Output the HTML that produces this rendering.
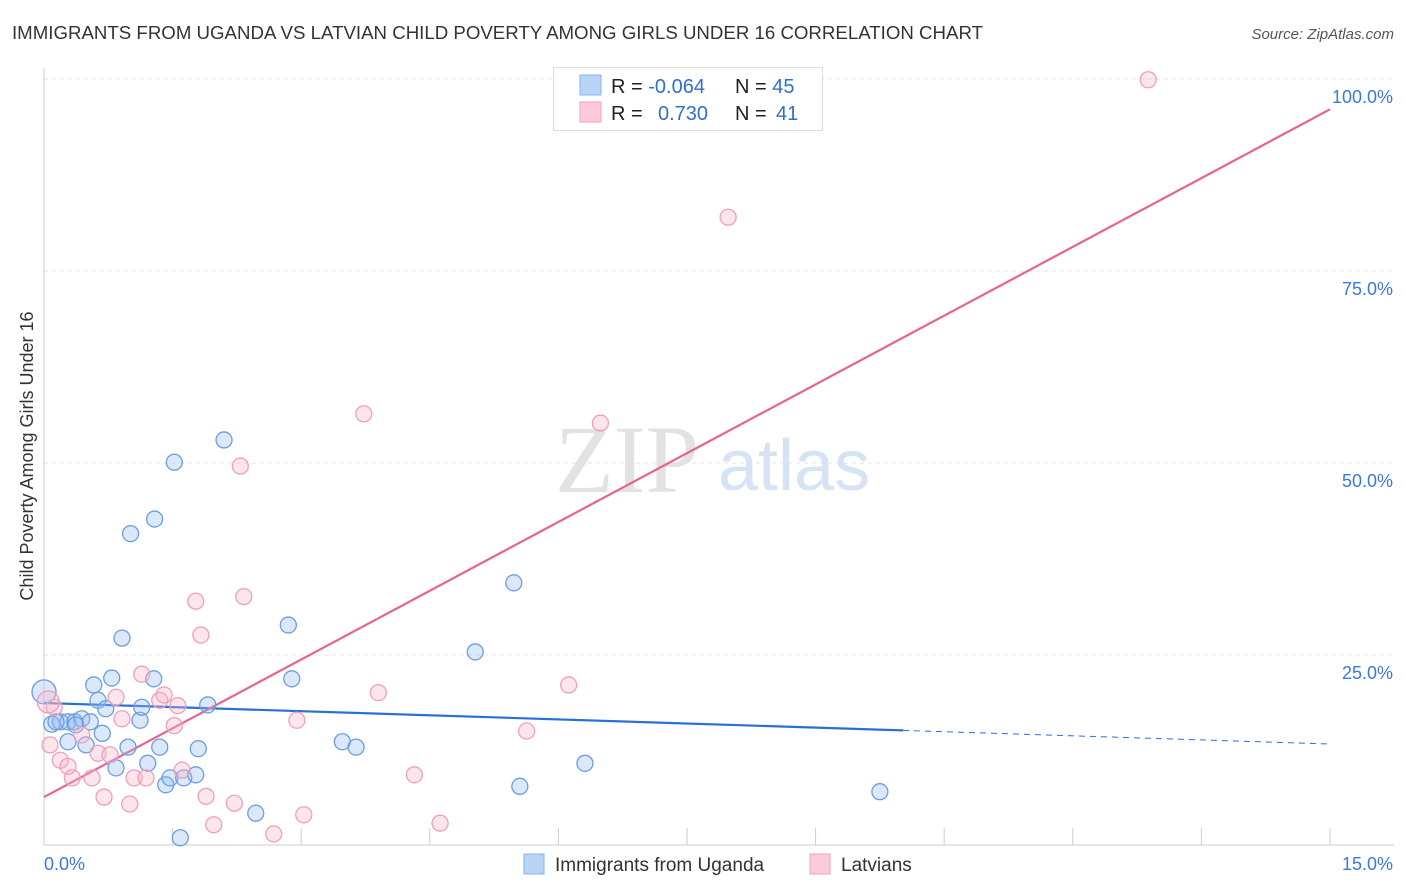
<!DOCTYPE html>
<html><head><meta charset="utf-8">
<style>
body{margin:0;background:#fff;font-family:"Liberation Sans",sans-serif;}
svg{display:block}
</style></head>
<body>
<svg id="chart" width="1406" height="892">
<text x="12" y="39" font-size="18" fill="#333" textLength="971" lengthAdjust="spacingAndGlyphs">IMMIGRANTS FROM UGANDA VS LATVIAN CHILD POVERTY AMONG GIRLS UNDER 16 CORRELATION CHART</text>
<text x="1394" y="39" font-size="15" fill="#555" font-style="italic" text-anchor="end">Source: ZipAtlas.com</text>
<text transform="translate(33,456) rotate(-90)" font-size="18" fill="#333" text-anchor="middle">Child Poverty Among Girls Under 16</text>
<g id="grid"></g>
<text x="555" y="492" font-size="96" fill="#e2e2e2" font-family="Liberation Serif,serif">ZIP</text>
<text x="718" y="490" font-size="72" fill="#d6e3f5">atlas</text>
<g id="lines"></g>
<g id="pts"></g>
<g>
<rect x="553.5" y="67.5" width="269" height="63" fill="#fff" stroke="#ddd"/>
<rect x="580" y="75" width="21" height="20" fill="#b8d3f5" stroke="#8ab4e8"/>
<rect x="580" y="102" width="21" height="20" fill="#fbcbd9" stroke="#f2a0b8"/>
<text x="611" y="93" font-size="20" fill="#222">R = <tspan fill="#2f6fd0">-0.064</tspan></text>
<text x="735" y="93" font-size="20" fill="#222">N = <tspan fill="#2f6fd0">45</tspan></text>
<text x="611" y="120" font-size="20" fill="#222">R = <tspan fill="#2f6fd0" x="658">0.730</tspan></text>
<text x="735" y="120" font-size="20" fill="#222">N = <tspan fill="#2f6fd0" x="776">41</tspan></text>
</g>
<g>
<rect x="524" y="854" width="20" height="20" fill="#b8d3f5" stroke="#8ab4e8"/>
<text x="555" y="871" font-size="19" fill="#333">Immigrants from Uganda</text>
<rect x="810" y="854" width="20" height="20" fill="#fbcbd9" stroke="#f2a0b8"/>
<text x="841" y="871" font-size="19" fill="#333">Latvians</text>
</g>
</svg>
<script>
const xTicks=[0,1.5,3,4.5,6,7.5,9,10.5,12,13.5,15];
const yTicks=[25,50,75,100];
const yTickLabels=["25.0%","50.0%","75.0%","100.0%"];
const blueX=[0,0.09,0.19,0.28,0.36,0.44,0.14,0.28,0.49,0.68,0.58,0.63,0.72,0.79,0.91,0.84,0.98,1.01,1.12,1.14,1.21,1.28,1.29,1.35,1.42,1.47,1.52,1.59,1.63,1.77,1.80,1.91,2.10,2.47,2.85,2.89,3.48,3.64,5.03,5.48,5.55,6.31,9.75,0.37,0.54];
const blueY=[20.2,16.0,16.3,16.3,16.3,16.7,16.3,13.7,13.3,14.8,21.1,19.1,18.0,22.0,27.2,10.3,13.0,40.8,16.5,18.2,10.9,21.9,42.7,13.0,8.1,9.0,50.1,1.2,9.0,9.4,12.8,18.5,53.0,4.4,28.9,21.9,13.7,13.0,25.4,34.4,7.9,10.9,7.2,15.9,16.3];
const pinkX=[12.88,7.98,3.73,6.49,2.29,1.77,2.33,1.83,1.14,0.84,1.35,1.40,1.56,0.91,1.52,2.95,3.90,6.12,5.63,4.32,4.62,0.12,0.07,0.19,0.28,0.33,0.44,0.56,0.63,0.70,0.77,1.00,1.05,1.19,1.61,1.89,1.98,2.22,2.68,3.03,0.05];
const pinkY=[99.9,82.0,56.4,55.2,49.6,32.0,32.6,27.6,22.5,19.5,19.1,19.8,18.4,16.7,15.8,16.5,20.1,21.1,15.1,9.4,3.1,18.2,13.3,11.3,10.5,9.0,14.6,9.0,12.2,6.5,12.0,5.6,9.0,9.0,10.0,6.6,2.9,5.7,1.7,4.2,18.9];
const blueFit=[18.75,-0.356];
const pinkFit=[6.5,5.97];
const NS="http://www.w3.org/2000/svg";
const X=v=>44+v*85.73, Y=v=>847-v*7.68;
function mk(t,a,p){const e=document.createElementNS(NS,t);for(const k in a)e.setAttribute(k,a[k]);document.getElementById(p).appendChild(e);return e;}
yTicks.forEach((t,i)=>{
 const g=mk('line',{x1:44,x2:1394,y1:Y(t),y2:Y(t),stroke:'#e3e3e3','stroke-dasharray':'4,4'},'grid');
 
 
 const l=mk('text',{x:1393,y:Y(t)+24,'font-size':18,fill:'#3d78d8','text-anchor':'end'},'grid');l.textContent=yTickLabels[i];
 
 
});
const ax=mk('line',{x1:44,x2:1394,y1:845,y2:845,stroke:'#ccc'},'grid');


const ay=mk('line',{x1:44,x2:44,y1:68,y2:845,stroke:'#ccc'},'grid');


xTicks.forEach(t=>{const k=mk('line',{x1:X(t),x2:X(t),y1:828,y2:845,stroke:'#ccc'},'grid');
 
 });
[[0,"0.0%","start",44],[15,"15.0%","end",1393]].forEach(a=>{const l=mk('text',{x:a[3],y:870,'font-size':18,fill:'#3d78d8','text-anchor':a[2]},'grid');l.textContent=a[1];
 
 });
const f=(c,x)=>c[0]+c[1]*x;
const b1=mk('line',{x1:X(0),y1:Y(f(blueFit,0)),x2:X(10.02),y2:Y(f(blueFit,10.02)),stroke:'#2a6fd6','stroke-width':2.2},'lines');


const b2=mk('line',{x1:X(10.02),y1:Y(f(blueFit,10.02)),x2:X(15),y2:Y(f(blueFit,15)),stroke:'#2a6fd6','stroke-width':1,'stroke-dasharray':'6,5'},'lines');


const p1=mk('line',{x1:X(0),y1:Y(f(pinkFit,0)),x2:X(15),y2:Y(f(pinkFit,15)),stroke:'#e8638e','stroke-width':2.2},'lines');


blueX.forEach((x,i)=>{const c=mk('circle',{cx:X(x),cy:Y(blueY[i]),r:i==0?12:8,fill:'rgba(150,190,240,0.35)',stroke:'#6b9de0','stroke-width':1.3},'pts');
 
 });
pinkX.forEach((x,i)=>{const c=mk('circle',{cx:X(x),cy:Y(pinkY[i]),r:i==40?11:8,fill:'rgba(248,180,200,0.35)',stroke:'#eea0b8','stroke-width':1.3},'pts');
 
 });
</script>
</body></html>
